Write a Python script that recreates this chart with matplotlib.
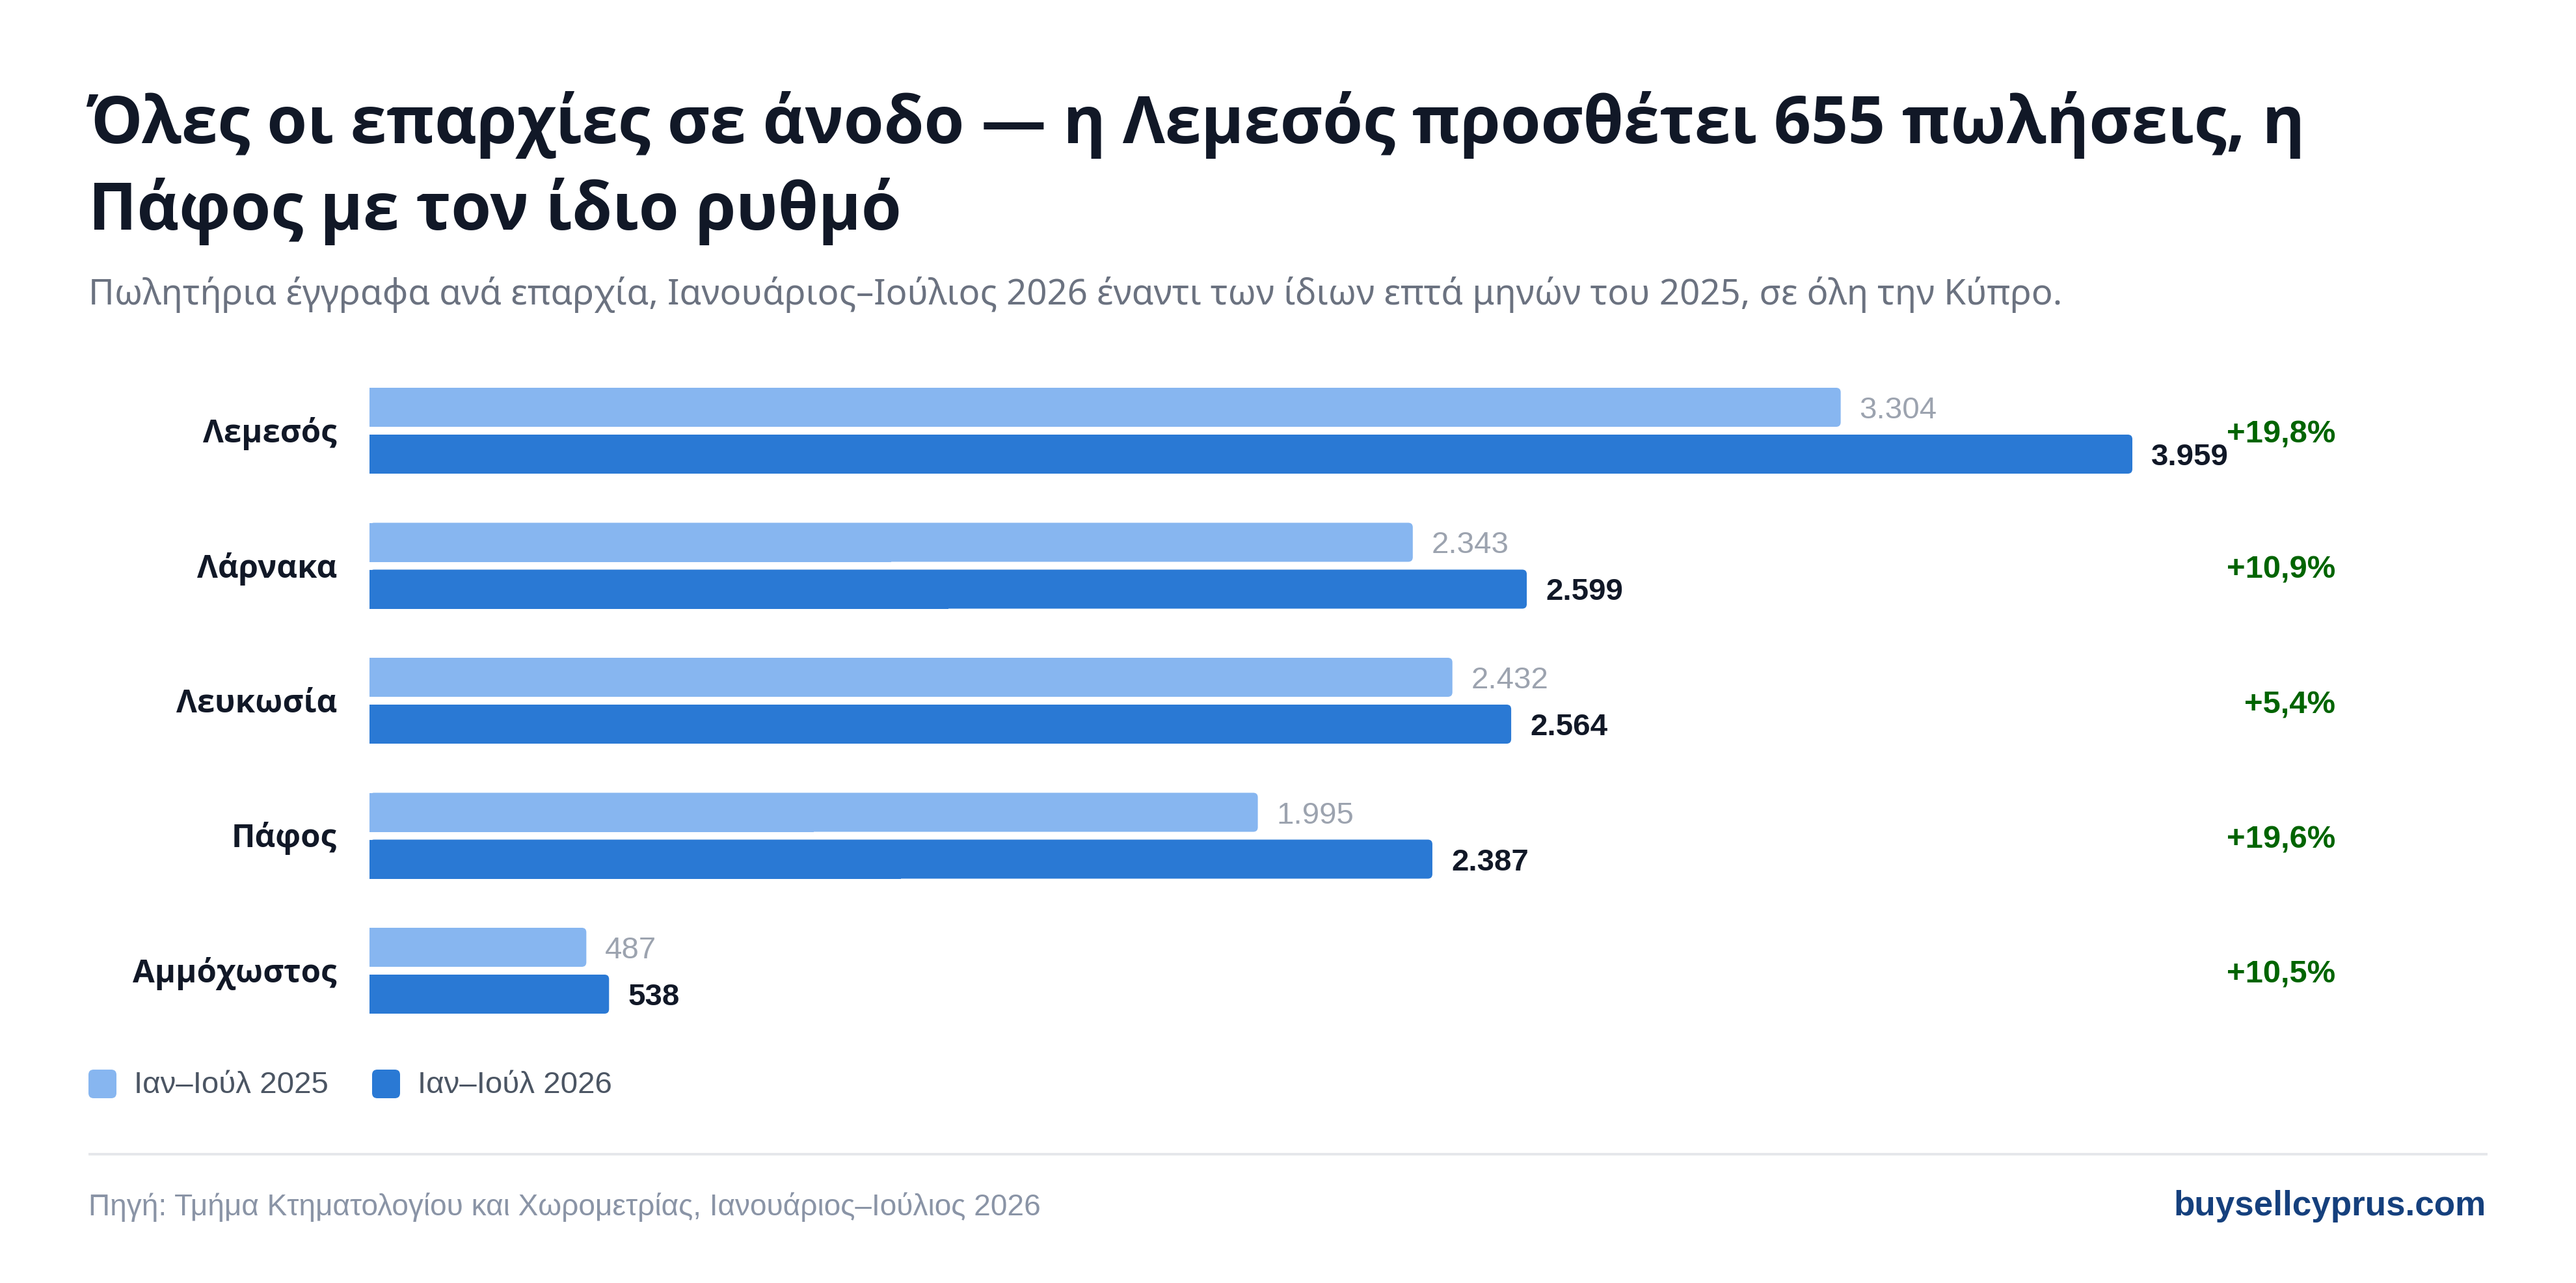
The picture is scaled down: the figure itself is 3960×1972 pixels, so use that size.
import matplotlib
matplotlib.use("Agg")
import matplotlib.pyplot as plt
from matplotlib.patches import FancyBboxPatch
from matplotlib import font_manager as fm

# ---- data ----
categories = ["Λεμεσός", "Λάρνακα", "Λευκωσία", "Πάφος", "Αμμόχωστος"]
sales_2025 = [3304, 2343, 2432, 1995, 487]
sales_2026 = [3959, 2599, 2564, 2387, 538]
labels_2025 = ["3.304", "2.343", "2.432", "1.995", "487"]
labels_2026 = ["3.959", "2.599", "2.564", "2.387", "538"]
pct_labels = ["+19,8%", "+10,9%", "+5,4%", "+19,6%", "+10,5%"]
legend_labels = ["Ιαν–Ιούλ 2025", "Ιαν–Ιούλ 2026"]

title_lines = ["Όλες οι επαρχίες σε άνοδο — η Λεμεσός προσθέτει 655 πωλήσεις, η",
               "Πάφος με τον ίδιο ρυθμό"]
subtitle = "Πωλητήρια έγγραφα ανά επαρχία, Ιανουάριος–Ιούλιος 2026 έναντι των ίδιων επτά μηνών του 2025, σε όλη την Κύπρο."
source = "Πηγή: Τμήμα Κτηματολογίου και Χωρομετρίας, Ιανουάριος–Ιούλιος 2026"
brand = "buysellcyprus.com"

# ---- fonts ----
def pick_family(cands, bold):
    names = {}
    for f in fm.fontManager.ttflist:
        w = f.weight if isinstance(f.weight, int) else 400
        names.setdefault(f.name, []).append(w)
    for c in cands:
        if c in names and (not bold or max(names[c]) >= 600):
            return c
    return "DejaVu Sans"

HEAD_B = [pick_family(["Noto Sans", "Open Sans", "Roboto", "Inter", "Lato"], True), "DejaVu Sans"]
HEAD_R = [pick_family(["Noto Sans", "Open Sans", "Roboto"], False), "DejaVu Sans"]
BODY = ["Liberation Sans", "DejaVu Sans"]

# ---- style ----
W, H, DPI = 3960, 1972, 200
C_LIGHT = "#87b6f0"
C_DARK = "#2a79d4"
C_TITLE = "#111827"
C_SUB = "#6b7280"
C_VAL25 = "#9ca3af"
C_GREEN = "#006400"
C_LEG = "#4b5563"
C_SRC = "#8a94a6"
C_BRAND = "#15407d"

def pt(px):
    return px * 72.0 / DPI

fig = plt.figure(figsize=(W / DPI, H / DPI), dpi=DPI, facecolor="white")

# overlay axes in pixel coordinates for titles, legend, footer
ov = fig.add_axes([0, 0, 1, 1])
ov.set_xlim(0, W)
ov.set_ylim(H, 0)
ov.axis("off")

# ---- bar axes ----
bar_left, bar_full = 568, 2710
pitch = 207.5
y0_px = 662
top_px = y0_px - pitch / 2
bot_px = y0_px + pitch * (len(categories) - 0.5)
ax = fig.add_axes([bar_left / W, 1 - bot_px / H, bar_full / W, (bot_px - top_px) / H])
xmax = max(sales_2026)
ax.set_xlim(0, xmax)
ax.set_ylim(len(categories) - 0.5, -0.5)
ax.axis("off")

bar_h = 60 / pitch
off = 36 / pitch
px_x = xmax / bar_full
px_y = 1 / pitch
radius_px = 7

def rounded_bar(y, w, color):
    r = radius_px * px_x
    ax.barh(y, w / 2, height=bar_h, color=color, linewidth=0)
    p = FancyBboxPatch((0, y - bar_h / 2), w, bar_h,
                       boxstyle=f"round,pad=0,rounding_size={r}",
                       mutation_aspect=px_y / px_x,
                       facecolor=color, edgecolor="none", linewidth=0)
    ax.add_patch(p)

for i, cat in enumerate(categories):
    y25 = i - off
    y26 = i + off
    rounded_bar(y25, sales_2025[i], C_LIGHT)
    rounded_bar(y26, sales_2026[i], C_DARK)
    ax.annotate(labels_2025[i], (sales_2025[i], y25), xytext=(pt(29), pt(-17)),
                textcoords="offset points", ha="left", va="baseline",
                fontsize=pt(47.5), color=C_VAL25, family=BODY, annotation_clip=False)
    ax.annotate(labels_2026[i], (sales_2026[i], y26), xytext=(pt(29), pt(-17)),
                textcoords="offset points", ha="left", va="baseline",
                fontsize=pt(47.5), color=C_TITLE, family=BODY, fontweight="bold",
                annotation_clip=False)
    ax.annotate(cat, (0, i), xytext=(pt(-50), pt(-18)), textcoords="offset points",
                ha="right", va="baseline", fontsize=pt(49), color=C_TITLE,
                family=HEAD_B, fontweight="bold", annotation_clip=False)
    ov.text(3590, y0_px + i * pitch + 19, pct_labels[i], ha="right", va="baseline",
            fontsize=pt(49), color=C_GREEN, family=BODY, fontweight="bold")

# ---- titles ----
ov.text(136, 220, title_lines[0], ha="left", va="baseline", fontsize=pt(100),
        color=C_TITLE, family=HEAD_B, fontweight="bold")
ov.text(136, 353, title_lines[1], ha="left", va="baseline", fontsize=pt(100),
        color=C_TITLE, family=HEAD_B, fontweight="bold")
ov.text(136, 468, subtitle, ha="left", va="baseline", fontsize=pt(54.5),
        color=C_SUB, family=HEAD_R)

# ---- legend ----
leg_x = [136, 572]
leg_colors = [C_LIGHT, C_DARK]
for lx, col, lab in zip(leg_x, leg_colors, legend_labels):
    ov.add_patch(FancyBboxPatch((lx, 1644), 43, 44,
                                boxstyle="round,pad=0,rounding_size=8",
                                facecolor=col, edgecolor="none"))
    ov.text(lx + 70, 1680, lab, ha="left", va="baseline", fontsize=pt(47.5),
            color=C_LEG, family=BODY)

# ---- footer ----
ov.plot([136, 3824], [1774, 1774], color="#e5e7eb", linewidth=pt(4),
        solid_capstyle="butt")
ov.text(136, 1868, source, ha="left", va="baseline", fontsize=pt(46),
        color=C_SRC, family=BODY)
ov.text(3822, 1868, brand, ha="right", va="baseline", fontsize=pt(53),
        color=C_BRAND, family=BODY, fontweight="bold")

fig.savefig("out.png", dpi=DPI, facecolor="white")
